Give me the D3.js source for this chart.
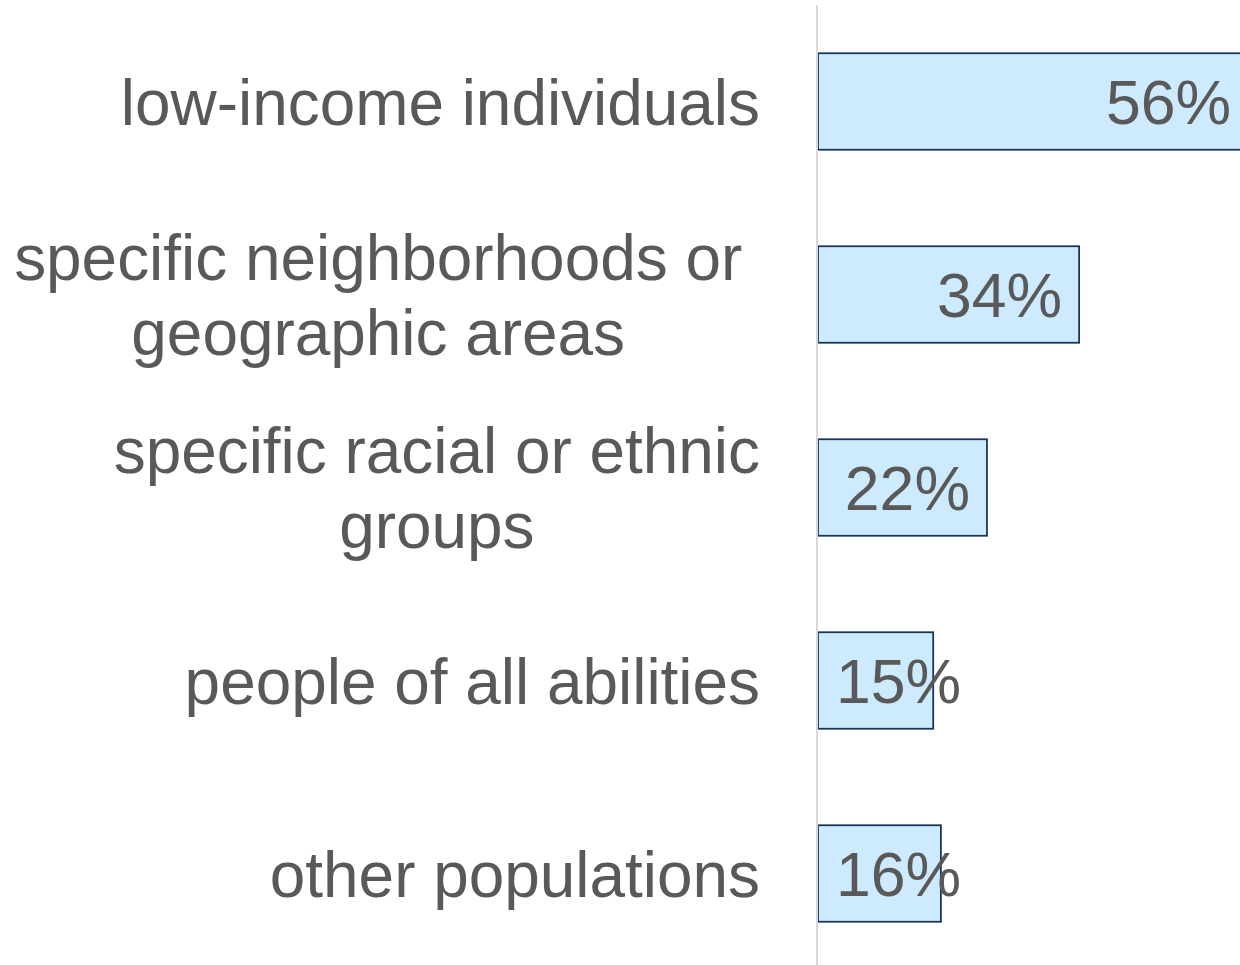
<!DOCTYPE html>
<html>
<meta charset="utf-8">
<head>
  <script src="https://d3js.org/d3.v7.min.js"></script>
</head>
<style>
  body {
    margin: 0;
    background-color: white;
  }
  text {
    font-family: 'Liberation Sans', Arial, sans-serif;
    fill: #595959;
  }
</style>
<body>
<script>
  // data
  var categories = [
    "low-income individuals",
    "specific neighborhoods or geographic areas",
    "specific racial or ethnic groups",
    "people of all abilities",
    "other populations"
  ];
  // how each category label wraps
  var labelLines = [
    ["low-income individuals"],
    ["specific neighborhoods or ", "geographic areas"],
    ["specific racial or ethnic", "groups"],
    ["people of all abilities"],
    ["other populations"]
  ];
  var values = [56, 34, 22, 15, 16];

  var w = 1240, h = 965;
  var fontSize = 63.9;
  var valueSize = 62.5;
  var lineH = 75;

  var svg = d3.select("body").append("svg")
    .attr("width", w)
    .attr("height", h);

  var x = d3.scaleLinear().domain([0, 60]).range([818, 818 + 60 * 7.68]);
  var y = d3.scaleBand().domain(categories).range([5, 970])
    .paddingInner(0.5).paddingOuter(0.25);

  var data = categories.map(function(c, i) {
    return { cat: c, value: values[i], lines: labelLines[i] };
  });

  // bars
  svg.selectAll("rect.bar")
    .data(data)
    .enter().append("rect")
    .attr("class", "bar")
    .attr("x", x(0))
    .attr("y", function(d) { return y(d.cat); })
    .attr("width", function(d) { return x(d.value) - x(0); })
    .attr("height", y.bandwidth())
    .attr("fill", "#cdeafe")
    .attr("stroke", "#1b365d")
    .attr("stroke-width", 1.8);

  // vertical axis line
  svg.append("line")
    .attr("x1", x(0) - 1).attr("x2", x(0) - 1)
    .attr("y1", 5).attr("y2", h)
    .attr("stroke", "#d9d9d9")
    .attr("stroke-width", 2);

  // category labels: block right-aligned, lines centred inside the block
  var labelRight = 760;
  var spaceW = fontSize * 0.278;
  data.forEach(function(d) {
    var cy = y(d.cat) + y.bandwidth() / 2;
    var g = svg.append("g");
    var n = d.lines.length;
    var trailing = d.lines.some(function(l) { return / $/.test(l); });
    var texts = d.lines.map(function(line, j) {
      return g.append("text")
        .attr("font-size", fontSize)
        .attr("y", cy + 0.36 * fontSize + (j - (n - 1) / 2) * lineH)
        .text(line.trim());
    });
    var maxW = d3.max(texts, function(t) { return t.node().getComputedTextLength(); });
    var cx = labelRight - maxW / 2 - (trailing ? spaceW : 0);
    texts.forEach(function(t) {
      t.attr("x", cx).attr("text-anchor", "middle");
    });
  });

  // value labels: inside end, pushed to the base when they do not fit
  svg.selectAll("text.value")
    .data(data)
    .enter().append("text")
    .attr("class", "value")
    .attr("font-size", valueSize)
    .attr("y", function(d) { return y(d.cat) + y.bandwidth() / 2 + 0.36 * valueSize; })
    .text(function(d) { return d.value + "%"; })
    .each(function(d) {
      var t = d3.select(this);
      var tw = this.getComputedTextLength();
      var end = x(d.value) - 17;
      if (end - tw < x(0) + 18) {
        t.attr("x", x(0) + 18).attr("text-anchor", "start");
      } else {
        t.attr("x", end).attr("text-anchor", "end");
      }
    });
</script>
</body>
</html>
